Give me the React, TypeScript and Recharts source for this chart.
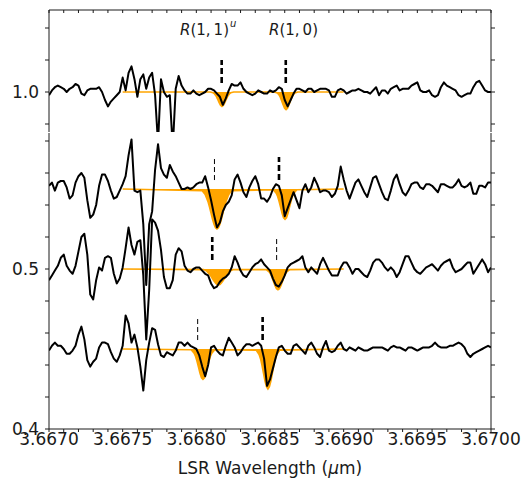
import { ComposedChart, Line, Area, XAxis, YAxis, ReferenceLine } from "recharts";

// Uniform sampling grid of the spectra (LSR wavelength, micron)
const WAVE_START = 3.667;
const WAVE_STEP = 0.00002;
const WAVE_COUNT = 151;
const WAVE = Array.from({ length: WAVE_COUNT }, (_, i) => +(WAVE_START + i * WAVE_STEP).toFixed(5));

// Top panel spectrum (continuum 1.0)
const FLUX_A = [
  0.998, 1.001, 1.003, 1.004, 1.003, 1.002, 1.000, 1.002, 1.003, 1.005,
  1.004, 0.999, 0.998, 1.001, 1.002, 1.002, 1.002, 1.003, 1.000, 0.995,
  0.991, 0.994, 0.996, 0.998, 1.000, 1.009, 1.001, 1.012, 1.016, 1.008,
  0.997, 1.008, 1.011, 1.002, 1.009, 1.012, 0.998, 0.968, 1.008, 1.000,
  0.997, 0.998, 0.965, 1.002, 1.010, 1.004, 1.001, 0.999, 0.999, 1.001,
  0.999, 0.998, 0.999, 1.000, 1.002, 1.002, 1.001, 0.999, 0.997, 0.992,
  0.996, 1.001, 1.005, 1.004, 1.004, 1.006, 1.002, 1.000, 0.999, 0.998,
  0.999, 1.001, 1.000, 0.999, 0.999, 1.001, 1.000, 1.001, 1.003, 1.002,
  0.995, 0.991, 0.995, 0.999, 1.002, 1.002, 1.001, 1.000, 1.002, 1.002,
  1.000, 1.001, 1.002, 1.002, 1.002, 1.001, 0.997, 0.997, 1.001, 1.002,
  1.001, 0.999, 1.000, 1.001, 1.001, 1.002, 1.001, 1.000, 1.000, 0.999,
  1.001, 1.003, 0.998, 1.001, 1.001, 0.999, 1.002, 1.003, 1.004, 1.001,
  1.002, 1.002, 1.002, 1.004, 1.005, 1.006, 1.001, 1.000, 1.000, 1.001,
  0.998, 0.997, 0.998, 1.003, 1.006, 1.004, 1.003, 1.002, 1.001, 0.998,
  0.997, 0.998, 0.999, 0.999, 1.003, 1.006, 1.007, 1.004, 1.001, 1.000, 1.000,
];

// Lower panel spectra (continua 0.55, 0.50, 0.45)
const FLUX_B = [
  0.552, 0.554, 0.549, 0.554, 0.555, 0.555, 0.551, 0.544, 0.546, 0.554,
  0.558, 0.560, 0.557, 0.543, 0.532, 0.534, 0.540, 0.552, 0.559, 0.559,
  0.555, 0.549, 0.544, 0.545, 0.549, 0.553, 0.558, 0.571, 0.581, 0.549,
  0.548, 0.549, 0.528, 0.490, 0.528, 0.536, 0.562, 0.578, 0.563, 0.559,
  0.557, 0.565, 0.561, 0.558, 0.554, 0.550, 0.550, 0.551, 0.550, 0.551,
  0.553, 0.554, 0.554, 0.558, 0.551, 0.543, 0.534, 0.526, 0.529, 0.536,
  0.540, 0.542, 0.546, 0.556, 0.559, 0.554, 0.548, 0.545, 0.551, 0.555,
  0.558, 0.553, 0.544, 0.544, 0.542, 0.545, 0.550, 0.553, 0.552, 0.546,
  0.533, 0.538, 0.543, 0.548, 0.543, 0.538, 0.549, 0.553, 0.548, 0.551,
  0.557, 0.553, 0.548, 0.549, 0.549, 0.548, 0.545, 0.547, 0.552, 0.564,
  0.556, 0.549, 0.544, 0.549, 0.554, 0.556, 0.552, 0.548, 0.545, 0.551,
  0.557, 0.558, 0.553, 0.548, 0.544, 0.543, 0.549, 0.556, 0.559, 0.553,
  0.548, 0.546, 0.549, 0.553, 0.554, 0.554, 0.551, 0.550, 0.553, 0.553,
  0.552, 0.550, 0.548, 0.553, 0.553, 0.552, 0.551, 0.551, 0.553, 0.556,
  0.552, 0.551, 0.552, 0.554, 0.547, 0.547, 0.552, 0.552, 0.551, 0.554, 0.554,
];

const FLUX_C = [
  0.493, 0.496, 0.499, 0.502, 0.507, 0.509, 0.502, 0.499, 0.497, 0.502,
  0.511, 0.520, 0.522, 0.509, 0.484, 0.481, 0.493, 0.501, 0.499, 0.507,
  0.508, 0.507, 0.497, 0.491, 0.494, 0.501, 0.513, 0.526, 0.515, 0.509,
  0.517, 0.518, 0.496, 0.456, 0.487, 0.531, 0.529, 0.524, 0.512, 0.495,
  0.488, 0.488, 0.493, 0.509, 0.513, 0.511, 0.502, 0.499, 0.498, 0.500,
  0.501, 0.501, 0.499, 0.497, 0.496, 0.491, 0.488, 0.489, 0.492, 0.494,
  0.495, 0.497, 0.501, 0.508, 0.504, 0.499, 0.496, 0.495, 0.498, 0.501,
  0.503, 0.504, 0.506, 0.503, 0.501, 0.499, 0.494, 0.490, 0.489, 0.492,
  0.496, 0.501, 0.503, 0.504, 0.505, 0.506, 0.508, 0.501, 0.498, 0.501,
  0.499, 0.497, 0.503, 0.507, 0.503, 0.499, 0.496, 0.496, 0.496, 0.501,
  0.504, 0.504, 0.501, 0.497, 0.500, 0.500, 0.498, 0.496, 0.495, 0.499,
  0.504, 0.506, 0.506, 0.504, 0.501, 0.499, 0.501, 0.499, 0.495, 0.498,
  0.503, 0.508, 0.508, 0.504, 0.500, 0.498, 0.497, 0.499, 0.501, 0.502,
  0.503, 0.501, 0.499, 0.502, 0.504, 0.505, 0.506, 0.501, 0.498, 0.499,
  0.500, 0.502, 0.504, 0.504, 0.497, 0.500, 0.503, 0.506, 0.503, 0.498, 0.501,
];

const FLUX_D = [
  0.449, 0.452, 0.454, 0.452, 0.452, 0.450, 0.447, 0.447, 0.449, 0.452,
  0.459, 0.464, 0.456, 0.443, 0.439, 0.442, 0.444, 0.451, 0.454, 0.454,
  0.453, 0.448, 0.444, 0.442, 0.446, 0.452, 0.471, 0.466, 0.454, 0.459,
  0.451, 0.439, 0.424, 0.443, 0.454, 0.463, 0.462, 0.453, 0.446, 0.445,
  0.448, 0.447, 0.446, 0.449, 0.454, 0.454, 0.452, 0.454, 0.452, 0.451,
  0.450, 0.446, 0.439, 0.433, 0.440, 0.451, 0.452, 0.449, 0.447, 0.446,
  0.452, 0.457, 0.454, 0.451, 0.446, 0.448, 0.451, 0.453, 0.453, 0.452,
  0.453, 0.454, 0.452, 0.444, 0.427, 0.431, 0.438, 0.445, 0.451, 0.452,
  0.449, 0.447, 0.447, 0.452, 0.453, 0.451, 0.449, 0.447, 0.452, 0.454,
  0.451, 0.447, 0.445, 0.451, 0.455, 0.449, 0.448, 0.449, 0.452, 0.454,
  0.450, 0.449, 0.451, 0.450, 0.449, 0.451, 0.450, 0.449, 0.449, 0.450,
  0.451, 0.451, 0.451, 0.451, 0.450, 0.449, 0.451, 0.452, 0.451, 0.451,
  0.450, 0.449, 0.451, 0.451, 0.450, 0.449, 0.450, 0.451, 0.451, 0.451,
  0.452, 0.454, 0.452, 0.451, 0.451, 0.451, 0.452, 0.452, 0.453, 0.454,
  0.453, 0.451, 0.447, 0.445, 0.447, 0.448, 0.449, 0.450, 0.451, 0.452, 0.451,
];

const CONT_A = 1.0;
const CONT_B = 0.55;
const CONT_C = 0.5;
const CONT_D = 0.45;

// Absorption-line models (orange), R(1,1)^u and R(1,0)
const MODEL_A_WAVE = [3.6675, 3.668094, 3.668114, 3.668124, 3.668134, 3.668144, 3.668154, 3.668164, 3.668174, 3.668184, 3.668194, 3.668204, 3.668214, 3.668224, 3.668234, 3.668254, 3.668529, 3.668549, 3.668559, 3.668569, 3.668579, 3.668589, 3.668599, 3.668609, 3.668619, 3.668629, 3.668639, 3.668649, 3.668659, 3.668669, 3.668689, 3.669];
const MODEL_A_FLUX = [1.0, 1.0, 0.9995, 0.9988, 0.9975, 0.9956, 0.9935, 0.9917, 0.991, 0.9917, 0.9935, 0.9956, 0.9975, 0.9988, 0.9995, 1.0, 1.0, 0.9994, 0.9985, 0.9969, 0.9946, 0.992, 0.9898, 0.989, 0.9898, 0.992, 0.9946, 0.9969, 0.9985, 0.9994, 1.0, 1.0];

const MODEL_B_WAVE = [3.6675, 3.66804, 3.66806, 3.66808, 3.66809, 3.6681, 3.66811, 3.66812, 3.66813, 3.66814, 3.66815, 3.66816, 3.66817, 3.66818, 3.66819, 3.6682, 3.66822, 3.66824, 3.668522, 3.668542, 3.668552, 3.668562, 3.668572, 3.668582, 3.668592, 3.668602, 3.668612, 3.668622, 3.668632, 3.668642, 3.668652, 3.668662, 3.668682, 3.669];
const MODEL_B_FLUX = [0.55, 0.5489, 0.5466, 0.5419, 0.5386, 0.5348, 0.5311, 0.528, 0.5258, 0.525, 0.5258, 0.528, 0.5311, 0.5348, 0.5386, 0.5419, 0.5466, 0.5489, 0.5495, 0.5474, 0.5453, 0.5422, 0.5385, 0.5348, 0.532, 0.531, 0.532, 0.5348, 0.5385, 0.5422, 0.5453, 0.5474, 0.5495, 0.55];

const MODEL_C_WAVE = [3.6675, 3.66805, 3.66807, 3.66809, 3.6681, 3.66811, 3.66812, 3.66813, 3.66814, 3.66815, 3.66816, 3.66817, 3.66818, 3.66819, 3.6682, 3.66821, 3.66823, 3.66825, 3.668474, 3.668494, 3.668504, 3.668514, 3.668524, 3.668534, 3.668544, 3.668554, 3.668564, 3.668574, 3.668584, 3.668594, 3.668604, 3.668614, 3.668634, 3.669];
const MODEL_C_FLUX = [0.5, 0.4996, 0.4987, 0.4968, 0.4954, 0.4939, 0.4925, 0.4912, 0.4903, 0.49, 0.4903, 0.4912, 0.4925, 0.4939, 0.4954, 0.4968, 0.4987, 0.4996, 0.4996, 0.4982, 0.4968, 0.4947, 0.4921, 0.4896, 0.4877, 0.487, 0.4877, 0.4896, 0.4921, 0.4947, 0.4968, 0.4982, 0.4996, 0.5];

const MODEL_D_WAVE = [3.6675, 3.667965, 3.667985, 3.667995, 3.668005, 3.668015, 3.668025, 3.668035, 3.668045, 3.668055, 3.668065, 3.668075, 3.668085, 3.668095, 3.668105, 3.668125, 3.668406, 3.668426, 3.668436, 3.668446, 3.668456, 3.668466, 3.668476, 3.668486, 3.668496, 3.668506, 3.668516, 3.668526, 3.668536, 3.668546, 3.668566, 3.669];
const MODEL_D_FLUX = [0.45, 0.4495, 0.4474, 0.4453, 0.4422, 0.4385, 0.4348, 0.432, 0.431, 0.432, 0.4348, 0.4385, 0.4422, 0.4453, 0.4474, 0.4495, 0.4493, 0.4466, 0.4438, 0.4397, 0.4348, 0.43, 0.4264, 0.425, 0.4264, 0.43, 0.4348, 0.4397, 0.4438, 0.4466, 0.4493, 0.45];

// Expected line positions (dashed markers); heavy = thick dashes
const MARK_A = [3.668172, 3.668607];
const MARK_A_HEAVY = [true, true];
const MARK_B = [3.668123, 3.668561];
const MARK_B_HEAVY = [false, true];
const MARK_C = [3.668108, 3.668545];
const MARK_C_HEAVY = [true, false];
const MARK_D = [3.668009, 3.66845];
const MARK_D_HEAVY = [false, true];
const MARK_LOW = 0.0056;
const MARK_HIGH = 0.02;

const X_TICKS = [
  3.667, 3.6671, 3.6672, 3.6673, 3.6674, 3.6675, 3.6676, 3.6677, 3.6678, 3.6679,
  3.668, 3.6681, 3.6682, 3.6683, 3.6684, 3.6685, 3.6686, 3.6687, 3.6688, 3.6689,
  3.669, 3.6691, 3.6692, 3.6693, 3.6694, 3.6695, 3.6696, 3.6697, 3.6698, 3.6699, 3.67,
];
const X_LABELED = [3.667, 3.6675, 3.668, 3.6685, 3.669, 3.6695, 3.67];
const Y_TICKS_TOP = [0.98, 1.0, 1.02, 1.04];
const Y_LABELED_TOP = [1.0];
const Y_TICKS_LOW = [0.4, 0.42, 0.44, 0.46, 0.48, 0.5, 0.52, 0.54, 0.56, 0.58];
const Y_LABELED_LOW = [0.4, 0.5];

const near = (list: number[], v: number) => list.some((t) => Math.abs(t - v) < 1e-7);
const fmtX = (v: number) => (near(X_LABELED, v) ? v.toFixed(4) : "");
const fmtYTop = (v: number) => (near(Y_LABELED_TOP, v) ? v.toFixed(1) : "");
const fmtYLow = (v: number) => (near(Y_LABELED_LOW, v) ? v.toFixed(1) : "");

const FONT = "'DejaVu Sans', sans-serif";
const INK = "#1a1a1a";
const ORANGE = "#FFA500";
const TICK_STYLE = { fontFamily: FONT, fontSize: 17, fill: INK };

const topRows = WAVE.map((w, i) => ({ wave: w, a: FLUX_A[i] }));
const lowRows = WAVE.map((w, i) => ({ wave: w, b: FLUX_B[i], c: FLUX_C[i], d: FLUX_D[i] }));

const modelRows = (waves: number[], flux: number[], cont: number) =>
  waves.map((w, i) => ({ wave: w, model: flux[i], band: [flux[i], cont] }));

const MODELS_LOW = [
  { key: "b", rows: modelRows(MODEL_B_WAVE, MODEL_B_FLUX, CONT_B) },
  { key: "c", rows: modelRows(MODEL_C_WAVE, MODEL_C_FLUX, CONT_C) },
  { key: "d", rows: modelRows(MODEL_D_WAVE, MODEL_D_FLUX, CONT_D) },
];

const markerList = (waves: number[], heavy: boolean[], cont: number) =>
  waves.map((w, i) => ({ w, heavy: heavy[i], lo: cont + MARK_LOW, hi: cont + MARK_HIGH }));

const MARKS_TOP = markerList(MARK_A, MARK_A_HEAVY, CONT_A);
const MARKS_LOW = [
  ...markerList(MARK_B, MARK_B_HEAVY, CONT_B),
  ...markerList(MARK_C, MARK_C_HEAVY, CONT_C),
  ...markerList(MARK_D, MARK_D_HEAVY, CONT_D),
];

function Marker({ w, heavy, lo, hi }: { w: number; heavy: boolean; lo: number; hi: number }) {
  return (
    <ReferenceLine
      xAxisId="x"
      yAxisId="l"
      segment={[{ x: w, y: lo }, { x: w, y: hi }]}
      stroke="#000"
      strokeWidth={heavy ? 2.6 : 1}
      strokeDasharray={heavy ? "6 3" : "5 3"}
    />
  );
}

const W = 526;
const H = 478;

export default function App() {
  return (
    <div style={{ position: "absolute", left: 0, top: 0, width: W, height: H, background: "#fff" }}>
      {/* lower panel: three offset spectra */}
      <div style={{ position: "absolute", left: 0, top: 0 }}>
        <ComposedChart width={W} height={H} data={lowRows} margin={{ top: 133, right: 34, bottom: 48, left: 48 }}>
          <XAxis
            xAxisId="x" type="number" dataKey="wave" domain={[3.667, 3.67]} allowDataOverflow
            ticks={X_TICKS} interval={0} tickFormatter={fmtX} height={1}
            tickSize={3} tickMargin={1} stroke={INK} tick={TICK_STYLE}
          />
          <YAxis
            yAxisId="l" type="number" domain={[0.4, 0.585]} allowDataOverflow
            ticks={Y_TICKS_LOW} interval={0} tickFormatter={fmtYLow} width={1}
            tickSize={4} tickMargin={6} stroke={INK} tick={TICK_STYLE}
          />
          <YAxis
            yAxisId="r" orientation="right" type="number" domain={[0.4, 0.585]} allowDataOverflow
            ticks={Y_TICKS_LOW} interval={0} tickFormatter={() => ""} width={1}
            tickSize={4} stroke={INK}
          />
          {MODELS_LOW.map((m) => (
            <Area
              key={`band-${m.key}`} xAxisId="x" yAxisId="l" data={m.rows} dataKey="band"
              type="linear" stroke="none" fill={ORANGE} fillOpacity={1} isAnimationActive={false}
            />
          ))}
          {MODELS_LOW.map((m) => (
            <Line
              key={`model-${m.key}`} xAxisId="x" yAxisId="l" data={m.rows} dataKey="model"
              type="linear" stroke={ORANGE} strokeWidth={1.6} dot={false} isAnimationActive={false}
            />
          ))}
          {["b", "c", "d"].map((k) => (
            <Line
              key={k} xAxisId="x" yAxisId="l" dataKey={k} type="linear" stroke="#000"
              strokeWidth={2} strokeLinejoin="round" dot={false} isAnimationActive={false}
            />
          ))}
          {MARKS_LOW.map((mk, i) => Marker({ ...mk, key: i } as any))}
        </ComposedChart>
      </div>

      {/* top panel: continuum near 1.0 */}
      <div style={{ position: "absolute", left: 0, top: 0 }}>
        <ComposedChart width={W} height={H} data={topRows} margin={{ top: 10, right: 34, bottom: 346, left: 48 }}>
          <XAxis
            xAxisId="x" type="number" dataKey="wave" domain={[3.667, 3.67]} allowDataOverflow
            ticks={X_TICKS} interval={0} tickFormatter={() => ""} orientation="top" mirror
            height={1} tickSize={3} stroke={INK}
          />
          <YAxis
            yAxisId="l" type="number" domain={[0.975, 1.05125]} allowDataOverflow
            ticks={Y_TICKS_TOP} interval={0} tickFormatter={fmtYTop} width={1}
            tickSize={4} tickMargin={6} stroke={INK} tick={TICK_STYLE}
          />
          <YAxis
            yAxisId="r" orientation="right" type="number" domain={[0.975, 1.05125]} allowDataOverflow
            ticks={Y_TICKS_TOP} interval={0} tickFormatter={() => ""} width={1}
            tickSize={4} stroke={INK}
          />
          <Area
            xAxisId="x" yAxisId="l" data={modelRows(MODEL_A_WAVE, MODEL_A_FLUX, CONT_A)} dataKey="band"
            type="linear" stroke="none" fill={ORANGE} fillOpacity={1} isAnimationActive={false}
          />
          <Line
            xAxisId="x" yAxisId="l" data={modelRows(MODEL_A_WAVE, MODEL_A_FLUX, CONT_A)} dataKey="model"
            type="linear" stroke={ORANGE} strokeWidth={1.6} dot={false} isAnimationActive={false}
          />
          <Line
            xAxisId="x" yAxisId="l" dataKey="a" type="linear" stroke="#000"
            strokeWidth={2} strokeLinejoin="round" dot={false} isAnimationActive={false}
          />
          {MARKS_TOP.map((mk, i) => Marker({ ...mk, key: i } as any))}
        </ComposedChart>
      </div>

      {/* annotations and axis title */}
      <svg width={W} height={H} style={{ position: "absolute", left: 0, top: 0, pointerEvents: "none" }}>
        <text x={180} y={35} fontFamily={FONT} fontSize={15} fill={INK}>
          <tspan fontStyle="italic">R</tspan>(1,{"\u2009"}1)
          <tspan dx={1} dy={-8} fontSize={10} fontStyle="italic">u</tspan>
        </text>
        <text x={269} y={35} fontFamily={FONT} fontSize={15} fill={INK}>
          <tspan fontStyle="italic">R</tspan>(1,{"\u2009"}0)
        </text>
        <text x={270} y={474} textAnchor="middle" fontFamily={FONT} fontSize={17} fill={INK}>
          LSR Wavelength (<tspan fontStyle="italic">μ</tspan>m)
        </text>
      </svg>
    </div>
  );
}
